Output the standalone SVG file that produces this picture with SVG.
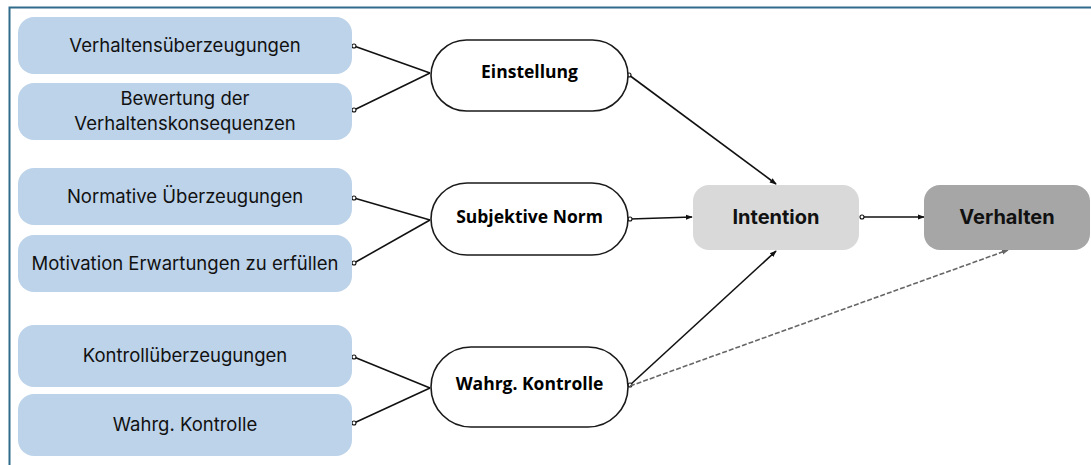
<svg xmlns="http://www.w3.org/2000/svg" width="1091" height="465" viewBox="0 0 1091 465">
<defs>
<style>
.src{fill:#bdd3ea;}
.st{font-family:Inter,"Liberation Sans",sans-serif;font-size:18.5px;fill:#111;text-anchor:middle;}
.ov{fill:#fff;stroke:#1a1a1a;stroke-width:1.6;}
.ot{font-family:"Open Sans","Liberation Sans",sans-serif;font-weight:bold;font-size:17.5px;fill:#000;text-anchor:middle;}
.bt{font-family:Inter,"Liberation Sans",sans-serif;font-weight:bold;font-size:20px;fill:#111;text-anchor:middle;}
.ln{fill:none;stroke:#111;stroke-width:1.6;marker-start:url(#dot);marker-end:url(#arr);}
.ln2{fill:none;stroke:#111;stroke-width:1.6;marker-start:url(#dot);}
.dash{fill:none;stroke:#666;stroke-width:1.6;stroke-dasharray:5,2;marker-end:url(#arrg);}
</style>
<marker id="dot" viewBox="0 0 6 6" refX="3" refY="3" markerWidth="6" markerHeight="6" markerUnits="userSpaceOnUse"><circle cx="3" cy="3" r="2" fill="#fff" stroke="#111" stroke-width="1.1"/></marker>
<marker id="arr" viewBox="0 0 8 8" refX="7" refY="4" markerWidth="7" markerHeight="7" markerUnits="userSpaceOnUse" orient="auto"><path d="M0,1 L8,4 L0,7 Z" fill="#111"/></marker>
<marker id="arrg" viewBox="0 0 8 8" refX="7" refY="4" markerWidth="7" markerHeight="7" markerUnits="userSpaceOnUse" orient="auto"><path d="M0,1 L8,4 L0,7 Z" fill="#666"/></marker>
</defs>
<rect width="1091" height="465" fill="#fff"/>
<path d="M9.5,465 V7.5 H1091" fill="none" stroke="#2f6b8a" stroke-width="2"/>

<g id="connectors">
<path class="ln2" d="M354,46 L430,73"/>
<path class="ln2" d="M354,110 L430,73"/>
<path class="ln2" d="M354,198 L430,220"/>
<path class="ln2" d="M354,263 L430,220"/>
<path class="ln2" d="M354,357 L430,388"/>
<path class="ln2" d="M354,423 L430,388"/>
<path class="ln" d="M629,75 L776,184"/>
<path class="ln" d="M630,219 L692,217"/>
<path class="ln" d="M630,385 L776,251"/>
<path class="ln" d="M862,217 L924,217"/>
<path class="dash" d="M630,386 L1008,250"/>
</g>

<g id="n-verhaltensueberzeugungen"><rect class="src" x="18" y="17" width="334" height="57" rx="16"/><text class="st" x="185" y="52">Verhaltensüberzeugungen</text></g>
<g id="n-bewertung"><rect class="src" x="18" y="83" width="334" height="57" rx="16"/><text class="st" x="185" y="105">Bewertung der</text><text class="st" x="185" y="130">Verhaltenskonsequenzen</text></g>
<g id="n-normative"><rect class="src" x="18" y="168" width="334" height="57" rx="16"/><text class="st" x="185" y="203">Normative Überzeugungen</text></g>
<g id="n-motivation"><rect class="src" x="18" y="235" width="334" height="57" rx="16"/><text class="st" x="185" y="270">Motivation Erwartungen zu erfüllen</text></g>
<g id="n-kontrollueberzeugungen"><rect class="src" x="18" y="325" width="334" height="62" rx="16"/><text class="st" x="185" y="362">Kontrollüberzeugungen</text></g>
<g id="n-wahrg-src"><rect class="src" x="18" y="394" width="334" height="62" rx="16"/><text class="st" x="185" y="431">Wahrg. Kontrolle</text></g>

<g id="n-einstellung"><rect class="ov" x="431" y="40" width="197" height="71" rx="35.5"/><text class="ot" x="529.5" y="78">Einstellung</text></g>
<g id="n-subjektive-norm"><rect class="ov" x="431" y="183" width="197" height="72" rx="36"/><text class="ot" x="529.5" y="223">Subjektive Norm</text></g>
<g id="n-wahrg-kontrolle"><rect class="ov" x="431" y="347" width="197" height="80" rx="40"/><text class="ot" x="529.5" y="390">Wahrg. Kontrolle</text></g>

<g id="n-intention"><rect x="693" y="185" width="166" height="65" rx="16" fill="#d9d9d9"/><text class="bt" x="776" y="224">Intention</text></g>
<g id="n-verhalten"><rect x="924" y="185" width="166" height="65" rx="16" fill="#a6a6a6"/><text class="bt" x="1007" y="224">Verhalten</text></g>
</svg>
